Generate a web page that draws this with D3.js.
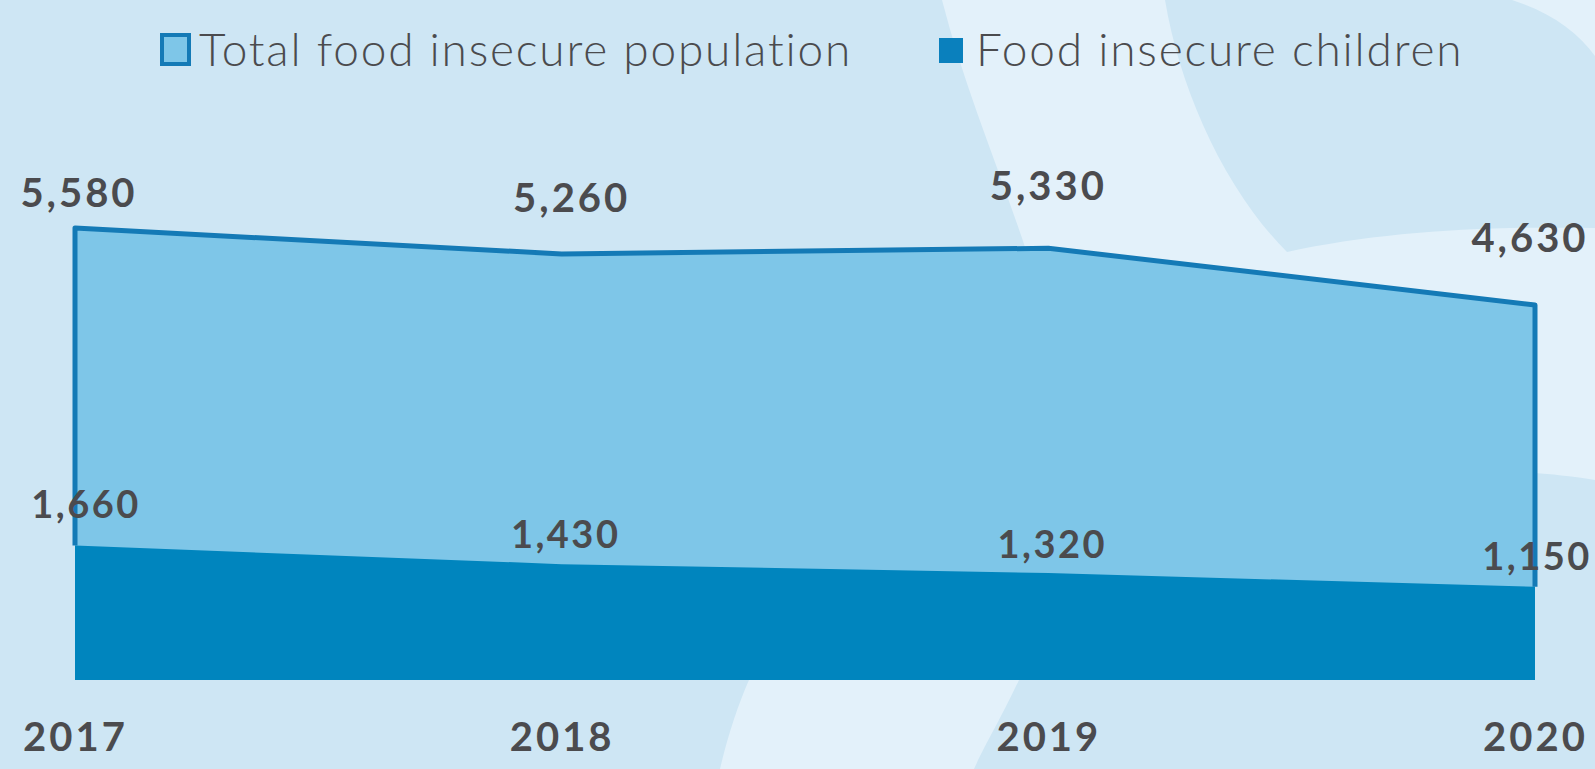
<!DOCTYPE html>
<html>
<head>
<meta charset="utf-8">
<script src="https://cdn.jsdelivr.net/npm/d3@7"></script>
<style>
  html, body { margin: 0; padding: 0; background: #cee6f4; overflow: hidden; }
  svg { display: block; }
</style>
</head>
<body>
<script>
// chart values
let years = ["2017", "2018", "2019", "2020"]
let totalPop = [5580, 5260, 5330, 4630]
let children = [1660, 1430, 1320, 1150]
let seriesNames = ["Total food insecure population", "Food insecure children"]

// small nudges for the value labels [dx, dy] relative to each point
let totalShift = [[4, -21], [10, -42], [0, -48], [-5, -53]]
let childShift = [[11, -28], [4, -16], [4, -15], [2, -17]]

let w = 1595
let h = 769

let colLight = "#7ec6e8"
let colDark = "#0085be"
let colEdge = "#147ab6"
let colText = "#4b4b4e"

let svg = d3.select("body").append("svg")
  .attr("width", w)
  .attr("height", h)

// background swooshes
svg.append("rect").attr("width", w).attr("height", h).attr("fill", "#cee6f4")
svg.append("path")
  .attr("d", "M942,0 L1165,0 C1180,90 1225,190 1287,252 C1380,232 1480,226 1595,228 L1595,480 C1570,476 1550,474 1535,473 L1100,480 L1019,680 C1000,720 985,745 974,769 L720,769 C728,735 738,705 749,680 L800,480 L1030,262 C1000,170 965,90 942,0 Z")
  .attr("fill", "#e3f1fa")
svg.append("path")
  .attr("d", "M1512,0 C1550,12 1578,32 1595,56 L1595,0 Z")
  .attr("fill", "#e3f1fa")

let xScale = d3.scalePoint().domain(years).range([75, 1535])
let yScale = d3.scaleLinear().domain([0, 5580]).range([680, 228])

let rows = years.map((y, i) => ({ year: y, total: totalPop[i], kids: children[i] }))

let totalArea = d3.area()
  .x(d => xScale(d.year))
  .y0(yScale(0))
  .y1(d => yScale(d.total))

let kidsArea = d3.area()
  .x(d => xScale(d.year))
  .y0(yScale(0))
  .y1(d => yScale(d.kids))

svg.append("path")
  .datum(rows)
  .attr("d", totalArea)
  .attr("fill", colLight)

// outline of the total area: left side, top, right side down to the children area
let edgePts = [[years[0], children[0]]]
  .concat(rows.map(d => [d.year, d.total]))
  .concat([[years[years.length - 1], children[children.length - 1]]])

svg.append("path")
  .datum(edgePts)
  .attr("d", d3.line().x(d => xScale(d[0])).y(d => yScale(d[1])))
  .attr("fill", "none")
  .attr("stroke", colEdge)
  .attr("stroke-width", 5)
  .attr("stroke-linejoin", "round")

svg.append("path")
  .datum(rows)
  .attr("d", kidsArea)
  .attr("fill", colDark)

// value labels
let labelFont = "Lato, 'Open Sans', sans-serif"

svg.selectAll(".lbl-total")
  .data(rows)
  .enter()
  .append("text")
  .attr("class", "lbl-total")
  .attr("x", (d, i) => xScale(d.year) + totalShift[i][0])
  .attr("y", (d, i) => yScale(d.total) + totalShift[i][1])
  .attr("text-anchor", "middle")
  .attr("font-family", labelFont)
  .attr("font-weight", 700)
  .attr("font-size", 40)
  .attr("letter-spacing", 3)
  .attr("fill", colText)
  .text(d => d3.format(",")(d.total))

svg.selectAll(".lbl-kids")
  .data(rows)
  .enter()
  .append("text")
  .attr("class", "lbl-kids")
  .attr("x", (d, i) => xScale(d.year) + childShift[i][0])
  .attr("y", (d, i) => yScale(d.kids) + childShift[i][1])
  .attr("text-anchor", "middle")
  .attr("font-family", labelFont)
  .attr("font-weight", 700)
  .attr("font-size", 38)
  .attr("letter-spacing", 2.5)
  .attr("fill", colText)
  .text(d => d3.format(",")(d.kids))

// year axis
let xAxis = d3.axisBottom(xScale).tickSize(0)
let axisG = svg.append("g")
  .attr("transform", "translate(0," + yScale(0) + ")")
  .call(xAxis)
axisG.select(".domain").remove()
axisG.selectAll("text")
  .attr("y", 71)
  .attr("dy", 0)
  .attr("font-family", labelFont)
  .attr("font-weight", 700)
  .attr("font-size", 40)
  .attr("letter-spacing", 3)
  .attr("fill", colText)

// legend
let legend = svg.append("g")
legend.append("rect")
  .attr("x", 162).attr("y", 35)
  .attr("width", 27).attr("height", 29)
  .attr("fill", colLight)
  .attr("stroke", colEdge)
  .attr("stroke-width", 4)
legend.append("text")
  .attr("x", 199).attr("y", 66)
  .attr("font-family", labelFont)
  .attr("font-weight", 300)
  .attr("font-size", 46)
  .attr("letter-spacing", 1.8)
  .attr("fill", colText)
  .text(seriesNames[0])

legend.append("rect")
  .attr("x", 939).attr("y", 38)
  .attr("width", 24).attr("height", 25)
  .attr("fill", "#0a80bd")
legend.append("text")
  .attr("x", 976).attr("y", 66)
  .attr("font-family", labelFont)
  .attr("font-weight", 300)
  .attr("font-size", 46)
  .attr("letter-spacing", 1.8)
  .attr("fill", colText)
  .text(seriesNames[1])
</script>
</body>
</html>
